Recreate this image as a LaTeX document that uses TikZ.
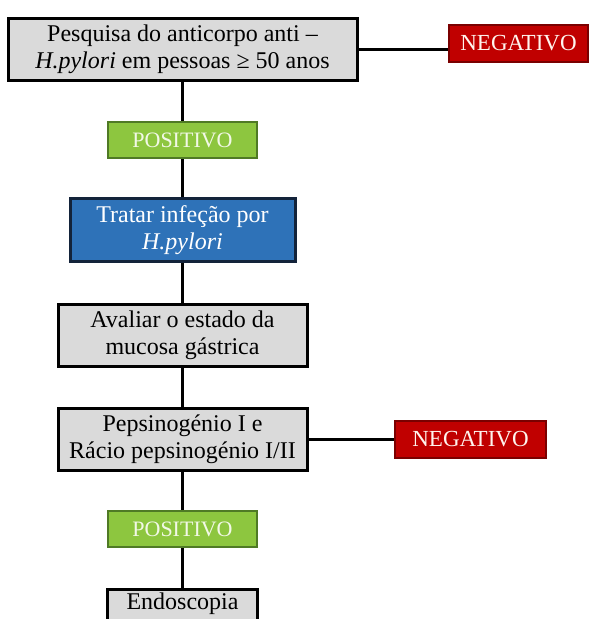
\documentclass[tikz,border=0pt]{standalone}
\usepackage{fontspec}
\setmainfont{Liberation Serif}
\definecolor{boxgrey}{HTML}{DADADA}
\definecolor{posfill}{HTML}{8DC63F}
\definecolor{posdraw}{HTML}{4F7A25}
\definecolor{postext}{HTML}{F2F8E6}
\definecolor{negfill}{HTML}{C00000}
\definecolor{negdraw}{HTML}{7A0000}
\definecolor{negtext}{HTML}{FFF4EE}
\definecolor{bluefill}{HTML}{2E72B8}
\definecolor{bluedraw}{HTML}{13233A}
\begin{document}
\begin{tikzpicture}[x=1pt,y=-1pt,
  base/.style={rectangle, inner sep=0pt, align=center, font=\fontsize{24}{27}\selectfont},
  greybox/.style={base, fill=boxgrey, draw=black, line width=3pt},
  bluebox/.style={base, fill=bluefill, draw=bluedraw, line width=3pt, text=white},
  posbox/.style={base, fill=posfill, draw=posdraw, line width=2.2pt, text=postext, font=\fontsize{22}{24}\selectfont},
  negbox/.style={base, fill=negfill, draw=negdraw, line width=1.5pt, text=negtext, font=\fontsize{23}{24}\selectfont},
  conn/.style={line width=3.8pt, draw=black},
  edge3/.style={line width=3pt, draw=black}]
\useasboundingbox (0,0) rectangle (589,619);
\clip (0,0) rectangle (589,619);
\node[greybox, minimum width=349pt, minimum height=62pt] (top) at (182.5,49.5)
  {Pesquisa do anticorpo anti –\\\textit{H.pylori} em pessoas ≥ 50 anos};
\node[negbox, minimum width=139pt, minimum height=37pt] (neg1) at (518.5,43.5) {NEGATIVO};
\node[posbox, minimum width=149pt, minimum height=36pt] (pos1) at (182.5,140) {POSITIVO};
\node[bluebox, minimum width=225pt, minimum height=63pt] (blue) at (182.5,230)
  {Tratar infeção por\\\textit{H.pylori}};
\node[greybox, minimum width=249pt, minimum height=62pt] (aval) at (182.5,335)
  {Avaliar o estado da\\mucosa gástrica};
\node[greybox, minimum width=249pt, minimum height=62pt] (pep) at (182.5,439.5)
  {Pepsinogénio I e\\Rácio pepsinogénio I/II};
\node[negbox, minimum width=151pt, minimum height=37pt] (neg2) at (470.5,439.5) {NEGATIVO};
\node[posbox, minimum width=149pt, minimum height=36pt] (pos2) at (182.5,529) {POSITIVO};
\node[base, fill=boxgrey, minimum width=149pt, minimum height=30pt, anchor=north] (endo) at (182.5,589)
  {\raisebox{1pt}{Endoscopia}};
\draw[edge3] (endo.south west) -- (endo.north west) -- (endo.north east) -- (endo.south east);
\draw[conn] (top.east) -- (top.east -| neg1.west);
\draw[conn] (top.south) -- (pos1.north);
\draw[conn] (pos1.south) -- (blue.north);
\draw[conn] (blue.south) -- (aval.north);
\draw[conn] (aval.south) -- (pep.north);
\draw[conn] (pep.east) -- (neg2.west);
\draw[conn] (pep.south) -- (pos2.north);
\draw[conn] (pos2.south) -- (endo.north);
\end{tikzpicture}
\end{document}
